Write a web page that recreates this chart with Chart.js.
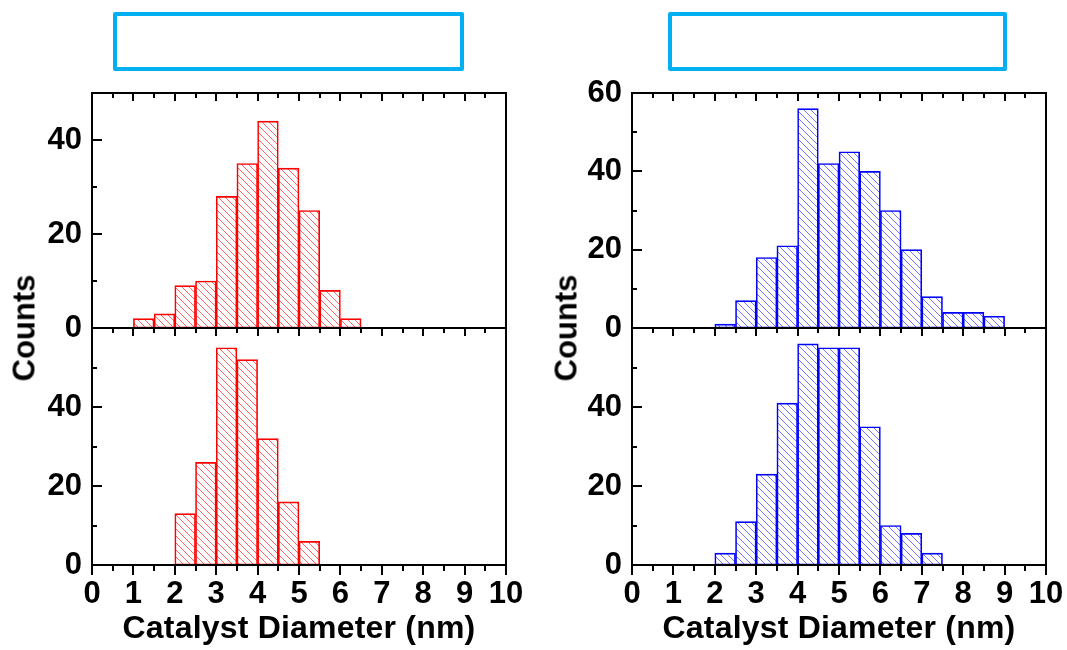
<!DOCTYPE html>
<html><head><meta charset="utf-8">
<script src="https://cdn.jsdelivr.net/npm/chart.js@4"></script>
<style>
html,body{margin:0;padding:0;background:#fff;}
body{width:1067px;height:650px;overflow:hidden;position:relative;font-family:"Liberation Sans",Arial,sans-serif;}
.pane{position:absolute;}
.pane canvas{display:block;}
.box{position:absolute;border:4px solid #00B0F0;box-sizing:border-box;border-radius:2px;}
.xt{position:absolute;font-weight:bold;font-size:32px;line-height:32px;text-align:center;letter-spacing:0.2px;color:#000;white-space:nowrap;}
.yt{position:absolute;font-weight:bold;font-size:31px;line-height:31px;transform:translate(-50%,-50%) rotate(-90deg);white-space:nowrap;color:#000;}
</style></head><body>
<div class="box" style="left:113px;top:12px;width:351px;height:59px"></div>
<div class="box" style="left:668px;top:12px;width:339px;height:59px"></div>

<div class="pane" style="left:0;top:0"><canvas id="c1" width="540" height="368"></canvas></div>
<div class="pane" style="left:0;top:290px"><canvas id="c2" width="540" height="360"></canvas></div>
<div class="pane" style="left:533px;top:0"><canvas id="c3" width="554" height="368"></canvas></div>
<div class="pane" style="left:533px;top:290px"><canvas id="c4" width="554" height="360"></canvas></div>

<div class="yt" style="left:24px;top:328px">Counts</div>
<div class="yt" style="left:566px;top:328px">Counts</div>
<div class="xt" style="left:92px;width:414px;top:611px">Catalyst Diameter (nm)</div>
<div class="xt" style="left:632px;width:414px;top:611px">Catalyst Diameter (nm)</div>

<script>
// ---- data ----
const binCenters = [0.25,0.75,1.25,1.75,2.25,2.75,3.25,3.75,4.25,4.75,5.25,5.75,6.25,6.75,7.25,7.75,8.25,8.75,9.25,9.75];
const redTopCounts    = [0,0,2,3,9,10,28,35,44,34,25,8,2,0,0,0,0,0,0,0];
const redBottomCounts = [0,0,0,0,13,26,55,52,32,16,6,0,0,0,0,0,0,0,0,0];
const blueTopCounts   = [0,0,0,0,1,7,18,21,56,42,45,40,30,20,8,4,4,3,0,0];
const blueBottomCounts= [0,0,0,0,3,11,23,41,56,55,55,35,10,8,3,0,0,0,0,0];
const xTickLabels = [0,1,2,3,4,5,6,7,8,9,10];
const xTickMarks = [0,0.5,1,1.5,2,2.5,3,3.5,4,4.5,5,5.5,6,6.5,7,7.5,8,8.5,9,9.5,10];
const yTicksLeftTop = [0,20,40];
const yTicksRightTop = [0,20,40,60];
const yTicksBottom = [0,20,40];
const yMarksTop50 = [0,10,20,30,40,50];
const yMarks60 = [0,10,20,30,40,50,60];

Chart.defaults.font.family = '"Liberation Sans", Arial, sans-serif';
Chart.defaults.color = '#000';

function hatch(ctx, color) {
  const s = 7;
  const t = document.createElement('canvas'); t.width = s; t.height = s;
  const g = t.getContext('2d');
  g.strokeStyle = color; g.lineWidth = 1;
  for (let k = -1; k <= 1; k++) {
    g.beginPath(); g.moveTo(k*s - 1, -1); g.lineTo(k*s + s + 1, s + 1); g.stroke();
  }
  return ctx.createPattern(t, 'repeat');
}

function framePlugin(isTop, yMarks) {
  return {
    id: 'frame',
    afterDatasetsDraw(chart) {
      const {ctx, chartArea: a} = chart;
      const x = chart.scales.x, y = chart.scales.y;
      ctx.save();
      ctx.strokeStyle = '#000';
      ctx.lineWidth = 2;
      xTickMarks.forEach(v => {
        const px = Math.round(x.getPixelForValue(v));
        const major = Number.isInteger(v);
        const lt = major ? 8 : 5;
        ctx.beginPath(); ctx.moveTo(px, a.top); ctx.lineTo(px, a.top + lt); ctx.stroke();
        if (!isTop) {
          const lb = major ? 10 : 6;
          ctx.beginPath(); ctx.moveTo(px, a.bottom); ctx.lineTo(px, a.bottom + lb); ctx.stroke();
        }
      });
      yMarks.forEach(v => {
        const py = Math.round(y.getPixelForValue(v));
        const major = v % 20 === 0;
        const l = major ? 10 : 5;
        ctx.beginPath(); ctx.moveTo(a.left, py); ctx.lineTo(a.left + l, py); ctx.stroke();
      });
      ctx.strokeRect(a.left, a.top, a.right - a.left, a.bottom - a.top);
      ctx.restore();
    }
  };
}

function makeChart(id, counts, lineColor, hatchColor, yMax, yTicks, yMarks, isTop, axisW, pad) {
  const canvas = document.getElementById(id);
  const ctx = canvas.getContext('2d');
  const data = binCenters.map((c, i) => ({x: c, y: counts[i]})).filter(p => p.y > 0);
  return new Chart(ctx, {
    type: 'bar',
    data: { datasets: [{
      data,
      backgroundColor: hatch(ctx, hatchColor),
      borderColor: lineColor,
      borderWidth: 1,
      borderSkipped: false,
      barPercentage: 1,
      categoryPercentage: 1
    }]},
    options: {
      responsive: false,
      devicePixelRatio: 1,
      animation: false,
      events: [],
      layout: { padding: pad },
      plugins: { legend: {display: false}, tooltip: {enabled: false} },
      scales: {
        x: {
          type: 'linear', min: 0, max: 10, offset: false,
          display: !isTop,
          afterBuildTicks: s => { s.ticks = xTickLabels.map(v => ({value: v})); },
          afterFit: s => { if (!isTop) s.height = 85; },
          grid: { display: false, drawTicks: false },
          border: { display: false },
          ticks: { font: {size: 31, weight: 'bold'}, color: '#000', padding: 11, maxRotation: 0, autoSkip: false }
        },
        y: {
          type: 'linear', min: 0, max: yMax,
          afterBuildTicks: s => { s.ticks = yTicks.map(v => ({value: v})); },
          afterFit: s => { s.width = axisW; },
          grid: { display: false, drawTicks: false },
          border: { display: false },
          ticks: { font: {size: 31, weight: 'bold'}, color: '#000', padding: 10, autoSkip: false }
        }
      }
    },
    plugins: [framePlugin(isTop, yMarks)]
  });
}

makeChart('c1', redTopCounts, '#ff0000', 'rgba(255,0,0,0.6)', 50, yTicksLeftTop, yMarksTop50, true, 92, {left:0, top:93, right:34, bottom:40});
makeChart('c2', redBottomCounts, '#ff0000', 'rgba(255,0,0,0.6)', 60, yTicksBottom, yMarks60, false, 92, {left:0, top:38, right:34, bottom:0});
makeChart('c3', blueTopCounts, '#0000ff', 'rgba(0,0,255,0.55)', 60, yTicksRightTop, yMarks60, true, 99, {left:0, top:93, right:41, bottom:40});
makeChart('c4', blueBottomCounts, '#0000ff', 'rgba(0,0,255,0.55)', 60, yTicksBottom, yMarks60, false, 99, {left:0, top:38, right:41, bottom:0});
</script>
</body></html>
